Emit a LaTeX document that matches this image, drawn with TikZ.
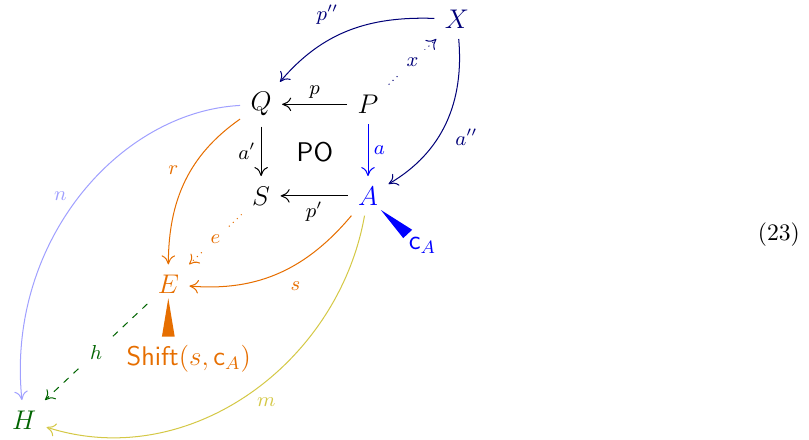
\documentclass[tikz,border=0pt]{standalone}
\usepackage{amsmath}
\usepackage{amssymb}
\usepackage{tikz}
\usetikzlibrary{arrows.meta, positioning, bending}
\definecolor{pushnavy}{RGB}{0,0,120}
\definecolor{pushorange}{RGB}{230,110,0}
\definecolor{pushgreen}{RGB}{0,100,0}
\definecolor{pushyellow}{RGB}{212,200,70}
\definecolor{pushlight}{RGB}{160,160,255}
\begin{document}
\begin{tikzpicture}[>={To[length=4pt,width=6pt,flex=1]}, obj/.style={font=\large, inner sep=4.5pt}, arr/.style={->, line width=0.45pt}, lab/.style={font=\fontsize{9}{10}\selectfont}, gaplab/.style={lab, fill=white, inner sep=3.5pt}]
 \useasboundingbox (0,0) rectangle (12.64,6.86);
 \node[obj, text=pushnavy] (X) at (7.14,6.56){$X$};
 \node[obj] (P) at (5.75,5.23){$P$};
 \node[obj] (Q) at (4.08,5.23){$Q$};
 \node[obj] (S) at (4.08,3.80){$S$};
 \node[obj, text=blue] (A) at (5.75,3.80){$A$};
 \node[obj, text=pushorange] (E) at (2.63,2.42){$E$};
 \node[obj, text=pushgreen] (H) at (0.375,0.30){$H$};
 \node[obj] (po) at (4.92,4.48){$\mathsf{PO}$};
 \node[obj, text=blue] (cA) at (6.60,3.02){$\mathsf{c}_A$};
 \node[obj, text=pushorange] (shift) at (2.95,1.25){$\mathsf{Shift}(s,\mathsf{c}_A)$};
 \node[font=\fontsize{10.5}{12}\selectfont] (eqno) at (12.17,3.20){(23)};
 \draw[arr] (P) -- node[lab, above=-1pt]{$p$} (Q);
 \draw[arr] (A) -- node[lab, below=-1pt]{$p'$} (S);
 \draw[arr] (Q) -- node[lab, left=-1pt]{$a'$} (S);
 \draw[arr, blue] (P) -- node[lab, right=-1pt]{$a$} (A);
 \draw[arr, pushnavy] (X) to[out=178, in=50] node[lab, above left=-1pt and 1pt, pos=0.5]{$p''$} (Q);
 \draw[arr, pushnavy] (X) to[out=-85, in=30] node[lab, right=4pt, pos=0.6]{$a''$} (A);
 \draw[arr, pushnavy, dotted] (P) -- node[gaplab]{$x$} (X);
 \draw[arr, pushorange] (Q) to[out=-145, in=90] node[lab, left=2pt, pos=0.42]{$r$} (E);
 \draw[arr, pushorange] (A) to[out=-130, in=-5] node[lab, below right=1pt and 0pt, pos=0.48]{$s$} (E);
 \draw[arr, pushorange, dotted] (S) -- node[gaplab]{$e$} (E);
 \draw[arr, pushgreen, dashed] (E) -- node[gaplab]{$h$} (H);
 \draw[arr, pushlight] (Q) to[out=183, in=96, out looseness=0.85, in looseness=1.1] node[lab, text=pushlight, left=2pt, pos=0.5]{$n$} (H);
 \draw[arr, pushyellow] (A) to[out=-100, in=-18] node[lab, text=pushyellow, below=4pt, pos=0.45]{$m$} (H);
 \coordinate (cAtip) at (5.95,3.58);
 \coordinate (cAleft) at (6.30,3.14);
 \coordinate (cAright) at (6.44,3.27);
 \fill[blue] (cAtip) -- (cAleft) -- (cAright) -- cycle;
 \coordinate (Etip) at (2.63,2.20);
 \coordinate (Eleft) at (2.53,1.60);
 \coordinate (Eright) at (2.73,1.60);
 \fill[pushorange] (Etip) -- (Eleft) -- (Eright) -- cycle;
\end{tikzpicture}
\end{document}
